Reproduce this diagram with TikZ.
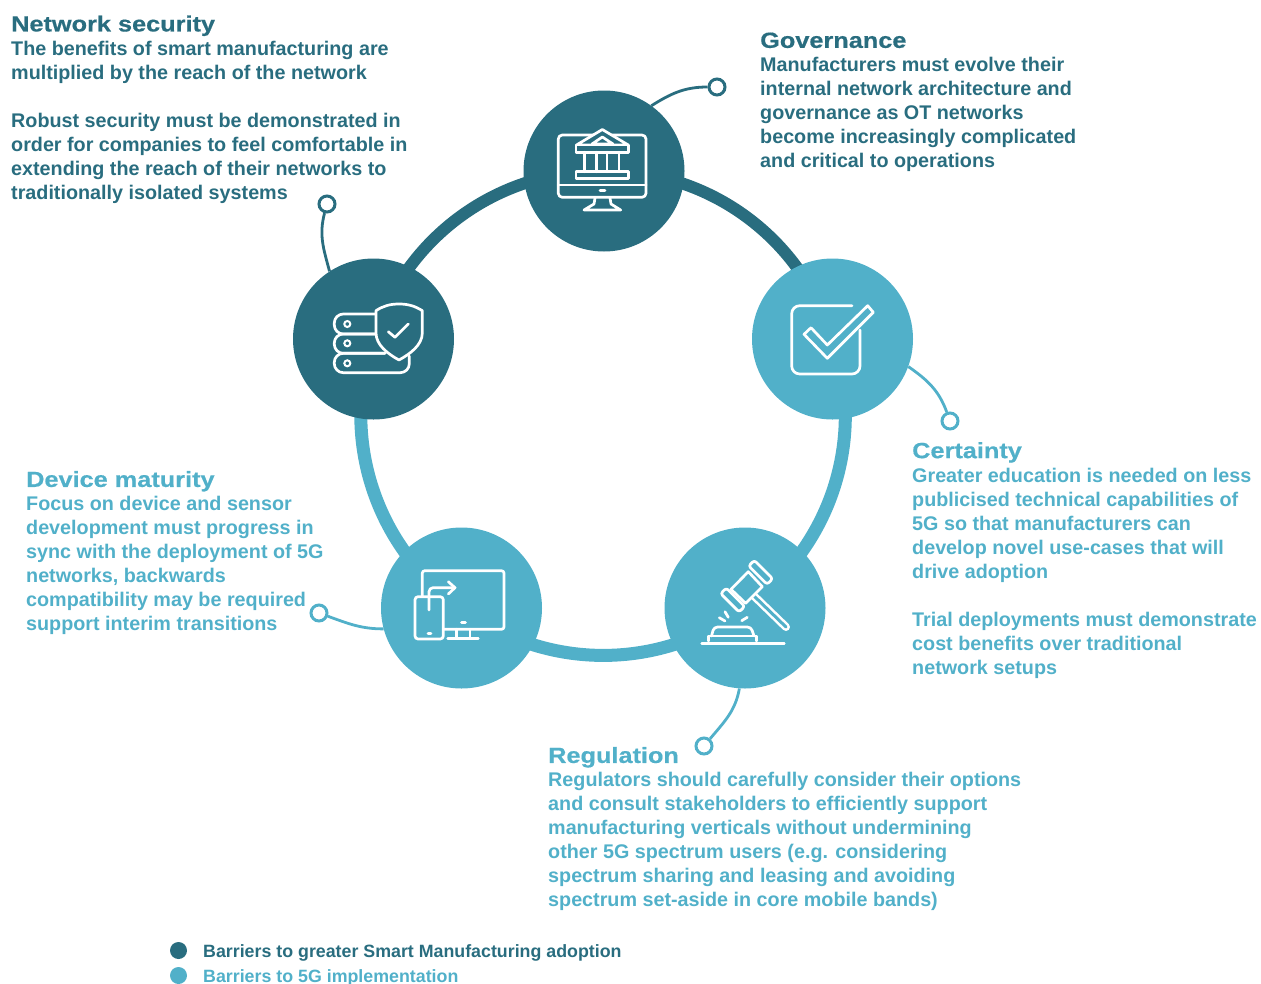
\documentclass[tikz,border=0pt]{standalone}
\usepackage{fontspec}
\setmainfont{Liberation Sans}
\newfontfamily\titlefont[FakeStretch=1.15,FakeBold=0.5]{Liberation Sans Bold}
\newfontfamily\bodyfont{Liberation Sans Bold}
\usetikzlibrary{backgrounds}
\definecolor{darkteal}{HTML}{296D7F}
\definecolor{lightteal}{HTML}{51B0C9}
\tikzset{
  hub/.style={circle,minimum size=161pt,inner sep=0pt,draw=none},
  hubdark/.style={hub,fill=darkteal},
  hublight/.style={hub,fill=lightteal},
  pin/.style={circle,minimum size=16pt,inner sep=0pt,draw=#1,line width=3pt,fill=white},
  ring/.style={line width=#1,bend left=37,looseness=.95},
  stem/.style={line width=2.8pt,draw=#1},
  txt/.style={anchor=north west,align=left,inner sep=0pt,font=\bodyfont\fontsize{19.75}{24}\selectfont,text=#1},
  legend/.style={anchor=base west,inner sep=0pt,font=\bodyfont\fontsize{17.8}{22}\selectfont,text=#1},
  dot/.style={circle,minimum size=17pt,inner sep=0pt,fill=#1},
  icon/.style={draw=white,line width=2.7pt,line cap=round,line join=round},
}
\newcommand{\ttlfont}{\titlefont\fontsize{22}{24}\selectfont}
\begin{document}
\begin{tikzpicture}[x=1pt,y=-1pt]
\useasboundingbox (0,0) rectangle (1261,983);
% hubs
\node[hubdark] (top) at (604,171) {};
\node[hubdark] (left) at (373.5,339) {};
\node[hublight] (right) at (832.5,339) {};
\node[hublight] (br) at (745,608) {};
\node[hublight] (bl) at (461.5,608) {};
% pins
\node[pin=darkteal] (pT) at (717,87) {};
\node[pin=darkteal] (pL) at (327,204) {};
\node[pin=lightteal] (pR) at (950,421) {};
\node[pin=lightteal] (pB) at (704,746) {};
\node[pin=lightteal] (pD) at (319,613) {};
\begin{scope}[on background layer]
  \draw[ring=12pt,darkteal] (top.center) to (right.center);
  \draw[ring=12pt,darkteal] (left.center) to (top.center);
  \draw[ring=13pt,lightteal] (right.center) to (br.center);
  \draw[ring=13pt,lightteal] (br.center) to (bl.center);
  \draw[ring=13pt,lightteal] (bl.center) to (left.center);
  \draw[stem=darkteal] (top.54) to[out=32,in=180] (pT);
  \draw[stem=darkteal] (left.123) to[out=105,in=-105] (pL);
  \draw[stem=lightteal] (right.-20) to[out=-35,in=110] (pR);
  \draw[stem=lightteal] (br.-94) to[out=-100,in=50] (pB);
  \draw[stem=lightteal] (bl.195) to[out=180,in=-20] (pD);
\end{scope}
% icon: monitor + bank
\draw[icon,rounded corners=4pt] (558.3,135) rectangle (646,197.3);
\draw[icon] (558.3,185) -- (646,185);
\draw[icon] (600,190.3) -- (605,190.3);
\draw[icon] (595,198) -- (594,204) -- (584,210) -- (620.7,210) -- (611,204) -- (610,198);
\draw[icon,fill=darkteal] (576.5,145) -- (602.3,129.5) -- (628.3,145) -- cycle;
\draw[icon,fill=darkteal] (576,145) rectangle (628.7,152.3);
\draw[icon] (602.3,137) -- (592,144) -- (613,144) -- cycle;
\draw[icon,fill=darkteal] (576,171.7) rectangle (628.7,178.3);
\foreach \cx in {584.5,596.5,607,619}{\draw[icon] (\cx,152.3) -- (\cx,171.7);}
% icon: servers + shield
\draw[icon,rounded corners=9pt] (376,314) -- (334.3,314) -- (334.3,334) -- (376,334);
\draw[icon,rounded corners=9pt] (376,334) -- (334.3,334) -- (334.3,353.3) -- (385,353.3);
\draw[icon,rounded corners=9pt] (385,353.3) -- (334.3,353.3) -- (334.3,372.7) -- (409.3,372.7) -- (409.3,356);
\foreach \hy in {324,343.3,363.3}{\draw[white,line width=2pt] (347.3,\hy) circle (3pt);}
\draw[icon,fill=darkteal] (399,304) .. controls (390,304) and (383,306) .. (376,310.7) -- (376,333) .. controls (376,345) and (388,354) .. (399,360) .. controls (410,354) and (422.3,345) .. (422.3,333) -- (422.3,310.7) .. controls (415,306) and (408,304) .. (399,304) -- cycle;
\draw[icon] (388.3,331.7) -- (395,337.3) -- (408.3,324);
% icon: check box
\draw[icon,rounded corners=8pt] (852,305.7) -- (791.7,305.7) -- (791.7,374) -- (860,374) -- (860,330);
\draw[icon,fill=lightteal] (804,334.3) -- (811,327.7) -- (827.3,345) -- (867.7,305.7) -- (873.3,312.3) -- (827.3,358.3) -- cycle;
% icon: gavel
\draw[white,line width=8pt,line cap=round] (754,596) -- (786,627);
\draw[lightteal,line width=3pt,line cap=round] (754,596) -- (786,627);
\draw[icon,fill=lightteal] (731,589.3) -- (748.3,571.7) -- (762.3,586.7) -- (745.7,603.3) -- cycle;
\draw[icon,fill=lightteal,rounded corners=2.5pt] (744.7,606.4) -- (739.1,612) -- (720.7,593.6) -- (726.3,588) -- cycle;
\draw[icon,fill=lightteal,rounded corners=2.5pt] (772.7,578.7) -- (767.1,584.3) -- (748.7,565.9) -- (754.3,560.3) -- cycle;
\draw[icon] (701.7,643.3) -- (784.3,643.3);
\draw[icon] (708.5,641) -- (708.5,636) -- (756.5,636) -- (756.5,641);
\draw[icon,rounded corners=3.5pt] (711.5,636) -- (714,627) -- (751,627) -- (754,636);
\draw[icon] (719.3,617.7) -- (725,621);
\draw[icon] (725,611.7) -- (728.3,617.3);
\draw[icon] (741.7,620.7) -- (747.3,617.3);
% icon: devices
\draw[icon,rounded corners=2.5pt] (422.3,596) -- (422.3,570.7) -- (504,570.7) -- (504,629.3) -- (443.3,629.3);
\draw[icon,rounded corners=3pt] (415,596.7) rectangle (443.3,639);
\draw[icon] (428,633.7) -- (431,633.7);
\draw[icon] (456.7,629.3) -- (456.7,638.3);
\draw[icon] (470,629.3) -- (470,638.3);
\draw[icon] (447.7,638.3) -- (478.3,638.3);
\draw[icon] (461.5,622.7) -- (465.5,622.7);
\draw[icon,rounded corners=4pt] (429,610) -- (429,587.7) -- (455,587.7);
\draw[icon] (448.3,581.7) -- (455,587.7) -- (448.3,594);
% texts
\node[txt=darkteal] (tNet) at (11,15.3) {{\ttlfont Network security}\\
The benefits of smart manufacturing are\\
multiplied by the reach of the network\\[24pt]
Robust security must be demonstrated in\\
order for companies to feel comfortable in\\
extending the reach of their networks to\\
traditionally isolated systems};
\node[txt=darkteal] (tGov) at (760,32.3) {{\ttlfont Governance}\\
Manufacturers must evolve their\\
internal network architecture and\\
governance as OT networks\\
become increasingly complicated\\
and critical to operations};
\node[txt=lightteal] (tCer) at (912,442) {{\ttlfont Certainty}\\
Greater education is needed on less\\
publicised technical capabilities of\\
5G so that manufacturers can\\
develop novel use-cases that will\\
drive adoption\\[24pt]
Trial deployments must demonstrate\\
cost benefits over traditional\\
network setups};
\node[txt=lightteal] (tDev) at (26,470.8) {{\ttlfont Device maturity}\\
Focus on device and sensor\\
development must progress in\\
sync with the deployment of 5G\\
networks, backwards\\
compatibility may be required\\
support interim transitions};
\node[txt=lightteal] (tReg) at (548,746.8) {{\ttlfont Regulation}\\
Regulators should carefully consider their options\\
and consult stakeholders to efficiently support\\
manufacturing verticals without undermining\\
other 5G spectrum users (e.g. considering\\
spectrum sharing and leasing and avoiding\\
spectrum set-aside in core mobile bands)};
% legend
\node[dot=darkteal] (dA) at (178.5,950.5) {};
\node[dot=lightteal] (dB) at (178.5,975.5) {};
\node[legend=darkteal] (lA) at (203,957) {Barriers to greater Smart Manufacturing adoption};
\node[legend=lightteal] (lB) at (203,982) {Barriers to 5G implementation};
\end{tikzpicture}
\end{document}
